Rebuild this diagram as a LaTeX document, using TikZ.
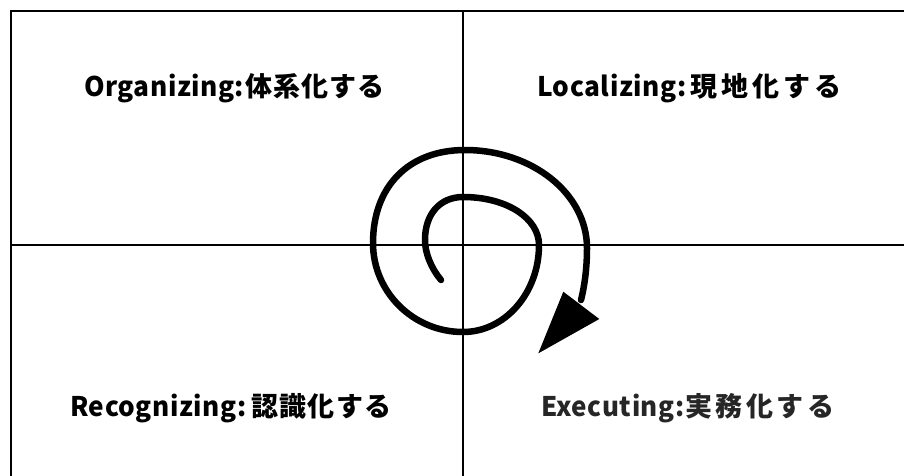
\documentclass[tikz,border=0pt]{standalone}
\usepackage{fontspec}
\usepackage{graphicx}
\setmainfont{Noto Sans CJK JP}
\newcommand{\latpart}[2]{\resizebox{#1pt}{\height}{\addfontfeature{LetterSpace=2}#2}}
\newcommand{\cjkpart}[2]{{\addfontfeature{LetterSpace=#1}#2}}
\begin{document}
\begin{tikzpicture}[x=1pt,y=-1pt,
  frame/.style={line width=2.3pt},
  axis/.style={line width=1.4pt},
  label/.style={font=\fontsize{27}{30}\selectfont\bfseries, inner sep=0pt, anchor=west},
  spiral/.style={line width=6.5pt, line cap=round, line join=round}]
\useasboundingbox (0,0) rectangle (904,475);
\clip (0,0) rectangle (904,475);
\fill[white] (0,0) rectangle (904,475);
\coordinate (tl) at (11,11);
\coordinate (br) at (912,484);
\draw[frame] (tl) rectangle (br);
\coordinate (vt) at (463,11);
\coordinate (vb) at (463,484);
\coordinate (hl) at (11,245);
\coordinate (hr) at (912,245);
\draw[axis] (vt) -- (vb);
\draw[axis] (hl) -- (hr);
\node[label] (org) at (84,88) {\latpart{160}{Organizing:}\hspace{1pt}\cjkpart{4}{体系化する}};
\node[label] (loc) at (537,88) {\latpart{149}{Localizing:}\hspace{4pt}\cjkpart{15}{現地化する}};
\node[label] (rec) at (70,408) {\latpart{176}{Recognizing:}\hspace{5pt}\cjkpart{5}{認識化する}};
\node[label, text=black!85] (exe) at (541,408) {\latpart{143}{Executing:}\hspace{1pt}\cjkpart{13}{実務化する}};
\coordinate (s) at (441,280);
\coordinate (l1) at (425,240);
\coordinate (t1) at (463,197);
\coordinate (r1) at (539,245);
\coordinate (b1) at (463,332);
\coordinate (l2) at (373,243);
\coordinate (t2) at (465,150);
\coordinate (r2) at (587,248);
\coordinate (e) at (581,300);
\draw[spiral] (s) .. controls (431,268) and (425,253) .. (l1)
  .. controls (425,214) and (440,197) .. (t1)
  .. controls (507,197) and (539,218.5) .. (r1)
  .. controls (539,293) and (505,332) .. (b1)
  .. controls (413.3,332) and (373,292.2) .. (l2)
  .. controls (373,187) and (408,150) .. (t2)
  .. controls (532.4,150) and (587,193.9) .. (r2)
  .. controls (587,266) and (585,284) .. (e);
\coordinate (a1) at (563.3,291.7);
\coordinate (a2) at (599.3,319);
\coordinate (a3) at (538.3,353.3);
\fill (a1) -- (a2) -- (a3) -- cycle;
\end{tikzpicture}
\end{document}
